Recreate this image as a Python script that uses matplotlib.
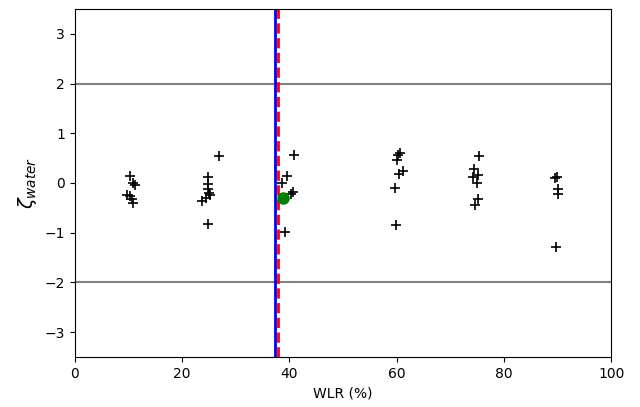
import matplotlib
matplotlib.use("Agg")
import matplotlib.pyplot as plt

# measured points (WLR %, zeta)
wlr = [10.3, 10.9, 11.3, 9.8, 10.2, 10.7, 10.9,
       26.9, 24.8, 24.8, 24.8, 25.0, 25.2, 24.5, 23.7, 24.8,
       40.9, 39.5, 38.6, 40.7, 40.3, 39.2,
       60.6, 60.3, 60.0, 61.2, 60.5, 59.7, 59.9,
       75.4, 74.4, 75.2, 74.3, 75.0, 75.2, 74.6,
       89.6, 89.9, 90.0, 90.0, 89.8]
zeta = [0.14, 0.0, -0.04, -0.24, -0.27, -0.32, -0.40,
        0.55, 0.12, -0.02, -0.12, -0.2, -0.25, -0.3, -0.37, -0.82,
        0.56, 0.14, 0.0, -0.18, -0.22, -0.99,
        0.60, 0.56, 0.46, 0.24, 0.18, -0.10, -0.85,
        0.54, 0.28, 0.16, 0.12, 0.0, -0.33, -0.44,
        0.10, 0.12, -0.13, -0.22, -1.29]

mean_wlr = 38.8
mean_zeta = -0.30
true_wlr = 37.3
est_wlr = 37.9
limits = [-2, 2]

fig = plt.figure(figsize=(6.4, 4.07), dpi=100)
ax = fig.add_axes([0.117, 0.123, 0.838, 0.855])

for l in limits:
    ax.axhline(l, color='gray', lw=1.5)
ax.axvline(true_wlr, color='blue', lw=2)
ax.axvline(est_wlr, color='red', lw=2, ls='--')
ax.plot(wlr, zeta, '+', color='black', ms=7.5, mew=1.2)
ax.plot(mean_wlr, mean_zeta, 'o', color='green', ms=8)

ax.set_xlim(0, 100)
ax.set_ylim(-3.5, 3.5)
ax.set_yticks([-3, -2, -1, 0, 1, 2, 3])
ax.set_xlabel('WLR (%)')
ax.set_ylabel(r'$\zeta_{water}$', fontsize=14)

fig.savefig('out.png', dpi=100)
